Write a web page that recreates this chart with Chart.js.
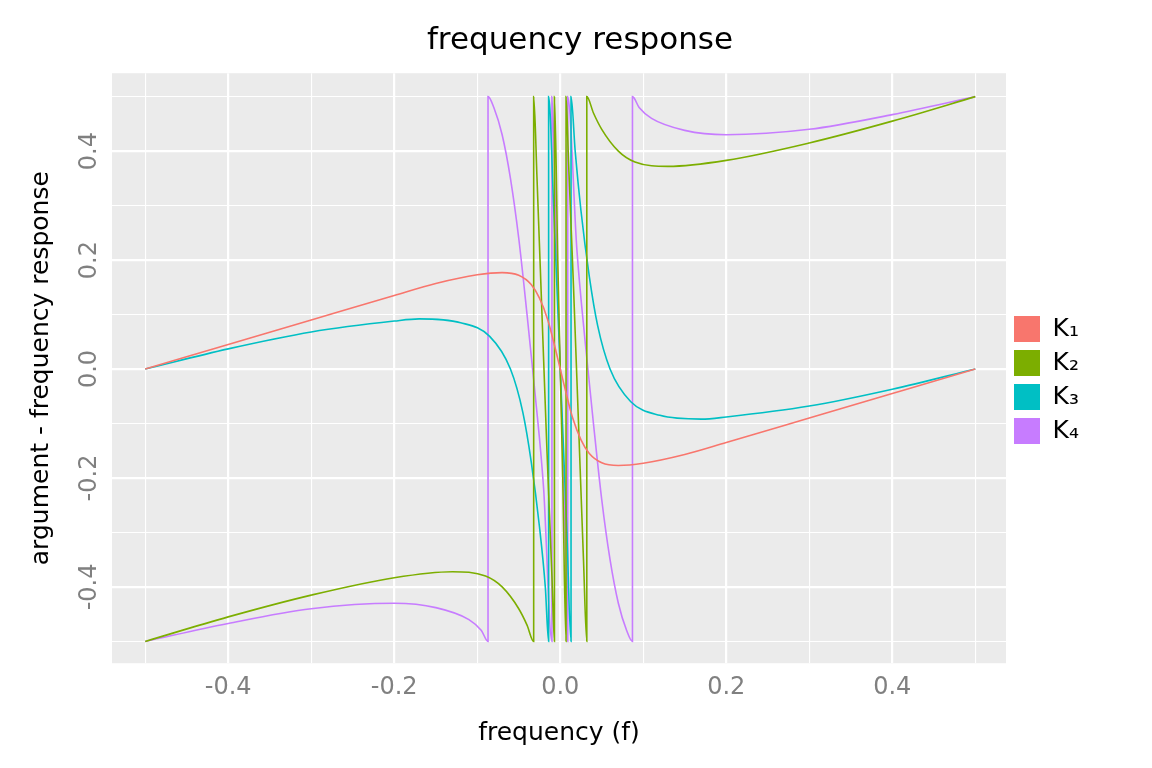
<!DOCTYPE html>
<html>
<head>
<meta charset="utf-8">
<script src="https://cdn.jsdelivr.net/npm/chart.js@4.4.1/dist/chart.umd.min.js"></script>
<style>
  body { margin: 0; background: #fff; }
  #wrap { width: 1152px; height: 768px; }
</style>
</head>
<body>
<div id="wrap"><canvas id="myChart"></canvas></div>
<script>
// valores (x = frecuencia, y = argumento)
const seriesNames = ['K\u2081', 'K\u2082', 'K\u2083', 'K\u2084'];
const seriesColors = ['#F8766D', '#7CAE00', '#00BFC4', '#C77CFF'];

const k1x = [-0.5, -0.4, -0.3, -0.2, -0.15, -0.1, -0.07, -0.05, -0.035, -0.025, -0.015, -0.008, 0, 0.008, 0.015, 0.025, 0.035, 0.05, 0.07, 0.1, 0.15, 0.2, 0.3, 0.4, 0.5];
const k1y = [0, 0.045, 0.09, 0.135, 0.157, 0.173, 0.177, 0.172, 0.155, 0.13, 0.09, 0.05, 0, -0.05, -0.09, -0.13, -0.155, -0.172, -0.177, -0.173, -0.157, -0.135, -0.09, -0.045, 0];

const k2x = [-0.5, -0.4, -0.3, -0.2, -0.13, -0.09, -0.07, -0.05, -0.04, -0.032, -0.032, -0.028, -0.022, -0.016, -0.01, -0.007, -0.007, -0.003, 0, 0.003, 0.007, 0.007, 0.01, 0.016, 0.022, 0.028, 0.032, 0.032, 0.04, 0.05, 0.07, 0.09, 0.13, 0.2, 0.3, 0.4, 0.5];
const k2y = [-0.5, -0.455, -0.415, -0.383, -0.372, -0.38, -0.4, -0.44, -0.47, -0.5, 0.5, 0.35, 0.1, -0.15, -0.38, -0.5, 0.5, 0.2, 0, -0.2, -0.5, 0.5, 0.38, 0.15, -0.1, -0.35, -0.5, 0.5, 0.47, 0.44, 0.4, 0.38, 0.372, 0.383, 0.415, 0.455, 0.5];

const k3x = [-0.5, -0.4, -0.3, -0.2, -0.17, -0.12, -0.085, -0.06, -0.045, -0.035, -0.025, -0.018, -0.014, -0.014, -0.008, 0, 0.008, 0.013, 0.013, 0.018, 0.025, 0.035, 0.045, 0.06, 0.085, 0.12, 0.17, 0.2, 0.3, 0.4, 0.5];
const k3y = [0, 0.037, 0.068, 0.088, 0.092, 0.085, 0.06, 0.0, -0.08, -0.17, -0.29, -0.4, -0.5, 0.5, 0.3, 0, -0.3, -0.5, 0.5, 0.4, 0.29, 0.17, 0.08, 0.0, -0.06, -0.085, -0.092, -0.088, -0.068, -0.037, 0];

const k4x = [-0.5, -0.4, -0.3, -0.2, -0.15, -0.11, -0.095, -0.087, -0.087, -0.08, -0.07, -0.06, -0.05, -0.04, -0.03, -0.02, -0.01, -0.01, -0.005, 0, 0.005, 0.009, 0.009, 0.02, 0.03, 0.04, 0.05, 0.06, 0.07, 0.08, 0.087, 0.087, 0.095, 0.11, 0.15, 0.2, 0.3, 0.4, 0.5];
const k4y = [-0.5, -0.467, -0.44, -0.43, -0.438, -0.46, -0.48, -0.5, 0.5, 0.48, 0.43, 0.35, 0.24, 0.1, -0.05, -0.22, -0.5, 0.5, 0.25, 0, -0.25, -0.5, 0.5, 0.22, 0.05, -0.1, -0.24, -0.35, -0.43, -0.48, -0.5, 0.5, 0.48, 0.46, 0.438, 0.43, 0.44, 0.467, 0.5];

const xsList = [k1x, k2x, k3x, k4x];
const ysList = [k1y, k2y, k3y, k4y];
const majorTicks = [-0.4, -0.2, 0, 0.2, 0.4];
const gridTicks = [-0.5, -0.4, -0.3, -0.2, -0.1, 0, 0.1, 0.2, 0.3, 0.4, 0.5];

function isMajor(v) {
  return majorTicks.some(m => Math.abs(m - v) < 1e-6);
}
function fmt(v) {
  if (Math.abs(v) < 1e-6) return '0.0';
  return v.toFixed(1);
}

const datasets = seriesNames.map((name, i) => ({
  label: name,
  data: xsList[i].map((x, j) => ({ x: x, y: ysList[i][j] })),
  borderColor: seriesColors[i],
  backgroundColor: seriesColors[i],
  borderWidth: 1.6,
  pointRadius: 0,
  showLine: true,
  cubicInterpolationMode: 'monotone'
}));

// fondo gris del panel y etiquetas y giradas
const panelPlugin = {
  id: 'panel',
  beforeDraw(chart) {
    const a = chart.chartArea, c = chart.ctx;
    c.save();
    c.fillStyle = '#EBEBEB';
    c.fillRect(a.left, a.top, a.right - a.left, a.bottom - a.top);
    c.restore();
  },
  afterDraw(chart) {
    const c = chart.ctx, ys = chart.scales.y;
    c.save();
    c.fillStyle = '#808080';
    c.font = '24px "DejaVu Sans"';
    c.textAlign = 'center';
    c.textBaseline = 'bottom';
    majorTicks.forEach(v => {
      const py = ys.getPixelForValue(v);
      c.save();
      c.translate(ys.right - 10, py);
      c.rotate(-Math.PI / 2);
      c.fillText(fmt(v), 0, 0);
      c.restore();
    });
    c.restore();
  }
};

new Chart('myChart', {
  type: 'scatter',
  data: { datasets: datasets },
  plugins: [panelPlugin],
  options: {
    responsive: true,
    maintainAspectRatio: false,
    animation: false,
    layout: { padding: { top: 8, right: 14, bottom: 16, left: 22 } },
    plugins: {
      title: {
        display: true,
        text: 'frequency response',
        color: '#000',
        font: { family: 'DejaVu Sans', size: 31, weight: 'normal' },
        padding: { top: 14, bottom: 14 }
      },
      legend: {
        position: 'right',
        labels: {
          color: '#000',
          font: { family: 'DejaVu Sans', size: 25 },
          boxWidth: 26,
          boxHeight: 26,
          padding: 8,
          generateLabels(chart) {
            return chart.data.datasets.map((d, i) => ({
              text: d.label,
              fillStyle: d.borderColor,
              strokeStyle: d.borderColor,
              lineWidth: 0,
              datasetIndex: i
            }));
          }
        },
        afterFit() {}
      },
      tooltip: { enabled: false }
    },
    scales: {
      x: {
        type: 'linear',
        min: -0.54,
        max: 0.537,
        afterBuildTicks(axis) {
          axis.ticks = gridTicks.map(v => ({ value: v }));
        },
        grid: {
          color: '#FFFFFF',
          lineWidth: ctx => isMajor(ctx.tick.value) ? 2.2 : 1.1,
          drawTicks: false
        },
        border: { display: false },
        ticks: {
          color: '#808080',
          font: { family: 'DejaVu Sans', size: 24 },
          padding: 10,
          autoSkip: false,
          maxRotation: 0,
          callback: v => isMajor(v) ? fmt(v) : ''
        },
        title: {
          display: true,
          text: 'frequency (f)',
          color: '#000',
          font: { family: 'DejaVu Sans', size: 25 },
          padding: { top: 6 }
        }
      },
      y: {
        type: 'linear',
        min: -0.54,
        max: 0.543,
        afterBuildTicks(axis) {
          axis.ticks = gridTicks.map(v => ({ value: v }));
        },
        afterFit(axis) { axis.width = 90; },
        grid: {
          color: '#FFFFFF',
          lineWidth: ctx => isMajor(ctx.tick.value) ? 2.2 : 1.1,
          drawTicks: false
        },
        border: { display: false },
        ticks: {
          color: 'rgba(0,0,0,0)',
          font: { size: 1 },
          autoSkip: false,
          callback: () => ''
        },
        title: {
          display: true,
          text: 'argument - frequency response',
          color: '#000',
          font: { family: 'DejaVu Sans', size: 25 },
          padding: { bottom: 0 }
        }
      }
    }
  }
});

// dejar sitio a la leyenda como en el original
Chart.getChart('myChart').legend.options.labels.padding = 8;
const ch = Chart.getChart('myChart');
ch.options.layout.padding.right = 14;
ch.legend.fit = (function (orig) {
  return function () { orig.call(this); this.width = 146 - 14; };
})(ch.legend.fit);
ch.update();
</script>
</body>
</html>
